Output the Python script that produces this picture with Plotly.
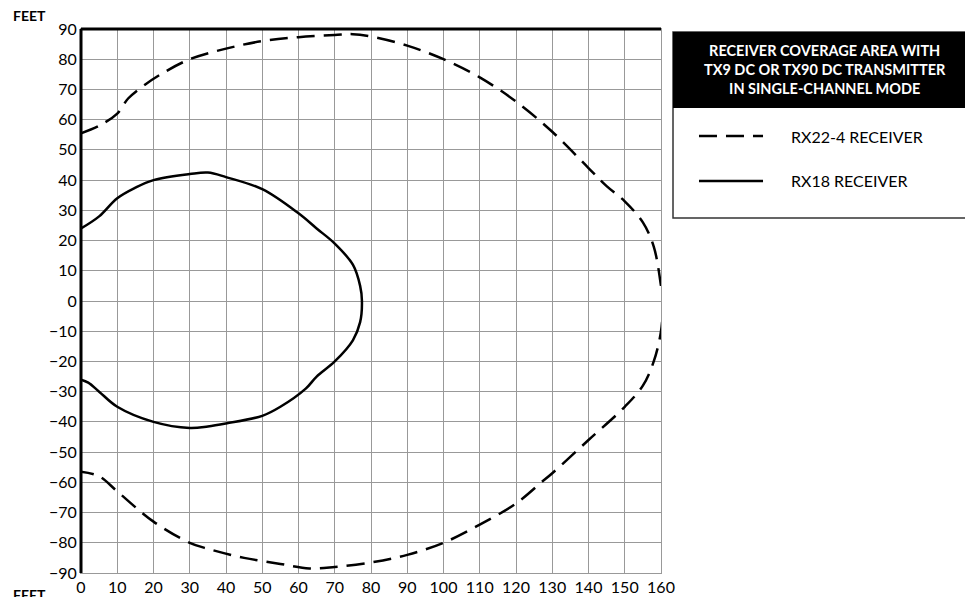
import plotly.graph_objects as go

# RX22-4 receiver (dashed) coverage outline
rx22_x = [0, 5, 10, 13, 17, 22, 30, 40, 50, 60, 70, 75, 80, 90, 100, 110, 120, 130, 140, 145, 150, 155, 158, 160, 160.5,
          160, 158, 155, 150, 140, 130, 127, 120, 110, 100, 90, 80, 70, 63, 55, 45, 35, 30, 20, 10, 5, 0]
rx22_y = [55.5, 58, 62, 67, 71, 75, 80, 83.5, 86, 87.3, 88, 88.3, 87.5, 84.5, 80, 74, 66, 56, 44, 38, 33, 26, 18, 5, 0,
          -10, -20, -28, -35, -46, -57, -60, -67, -74, -80, -84, -86.5, -88, -88.5, -87, -85, -82, -80, -73, -63, -58, -56.5]

# RX18 receiver (solid) coverage outline
rx18_x = [0, 5, 10, 15, 20, 30, 35, 40, 50, 60, 65, 70, 75, 77, 77.5, 77, 75, 70, 65, 62, 55, 50, 40, 35, 30, 20, 10, 5, 2, 0]
rx18_y = [24, 28, 34, 37.5, 40, 42, 42.5, 41, 37, 29, 24, 19, 12, 5, 0, -7, -13, -20, -25, -29, -35, -38, -40.5, -41.5,
          -42, -40, -35, -30, -27, -26]

font_name = "Lato"

fig = go.Figure()
fig.add_trace(go.Scatter(x=rx22_x, y=rx22_y, mode="lines", line=dict(color="black", width=2.5, dash="18px,9px"),
                         line_shape="spline", showlegend=False))
fig.add_trace(go.Scatter(x=rx18_x, y=rx18_y, mode="lines", line=dict(color="black", width=2.5),
                         line_shape="spline", showlegend=False))

fig.update_xaxes(range=[0, 160], tickvals=list(range(0, 170, 10)), showgrid=True, gridcolor="#999", gridwidth=1.3,
                 zeroline=False, showline=True, linecolor="#999", mirror=True, ticks="", automargin=False,
                 tickfont=dict(size=16, color="black", family=font_name))
fig.update_yaxes(range=[-90, 90], tickvals=list(range(-90, 100, 10)), showgrid=True, gridcolor="#999", gridwidth=1.3,
                 zeroline=False, showline=True, linecolor="#999", mirror=True, ticks="", automargin=False,
                 tickfont=dict(size=16, color="black", family=font_name))

shapes = [
    # heavy black left and top frame
    dict(type="line", xref="paper", yref="paper", x0=0, y0=0, x1=0, y1=1, line=dict(color="black", width=3)),
    dict(type="line", xref="paper", yref="paper", x0=0, y0=1, x1=1, y1=1, line=dict(color="black", width=3)),
    # legend box
    dict(type="rect", xref="paper", yref="paper", x0=1.0207, x1=1.5448, y0=0.6526, y1=0.9945,
         line=dict(color="#333", width=1.5), fillcolor="white"),
    dict(type="rect", xref="paper", yref="paper", x0=1.0207, x1=1.5448, y0=0.8548, y1=0.9945,
         line=dict(width=0), fillcolor="black"),
    dict(type="line", xref="paper", yref="paper", x0=1.0655, x1=1.1759, y0=0.8033, y1=0.8033,
         line=dict(color="black", width=2.5, dash="18px,9px")),
    dict(type="line", xref="paper", yref="paper", x0=1.0655, x1=1.1759, y0=0.7206, y1=0.7206,
         line=dict(color="black", width=2.5)),
]

annotations = [
    dict(text="<b>FEET</b>", xref="paper", yref="paper", x=-0.12, y=1.025, xanchor="left", yanchor="middle",
         showarrow=False, font=dict(size=14, family=font_name, color="black")),
    dict(text="<b>FEET</b>", xref="paper", yref="paper", x=-0.12, y=-0.04, xanchor="left", yanchor="middle",
         showarrow=False, font=dict(size=14, family=font_name, color="black")),
    dict(text="<b>RECEIVER COVERAGE AREA WITH<br>TX9 DC OR TX90 DC TRANSMITTER<br>IN SINGLE-CHANNEL MODE</b>",
         xref="paper", yref="paper", x=1.2828, y=0.9247, xanchor="center", yanchor="middle", showarrow=False,
         font=dict(size=14.5, family=font_name, color="white")),
    dict(text="RX22-4 RECEIVER", xref="paper", yref="paper", x=1.2207, y=0.8033, xanchor="left", yanchor="middle",
         showarrow=False, font=dict(size=16, family=font_name, color="black")),
    dict(text="RX18 RECEIVER", xref="paper", yref="paper", x=1.2207, y=0.7206, xanchor="left", yanchor="middle",
         showarrow=False, font=dict(size=16, family=font_name, color="black")),
]

fig.update_layout(width=973, height=597, margin=dict(l=73, r=320, t=21, b=32),
                  plot_bgcolor="white", paper_bgcolor="white", shapes=shapes, annotations=annotations,
                  font=dict(family=font_name))
fig.write_html("out.html")
